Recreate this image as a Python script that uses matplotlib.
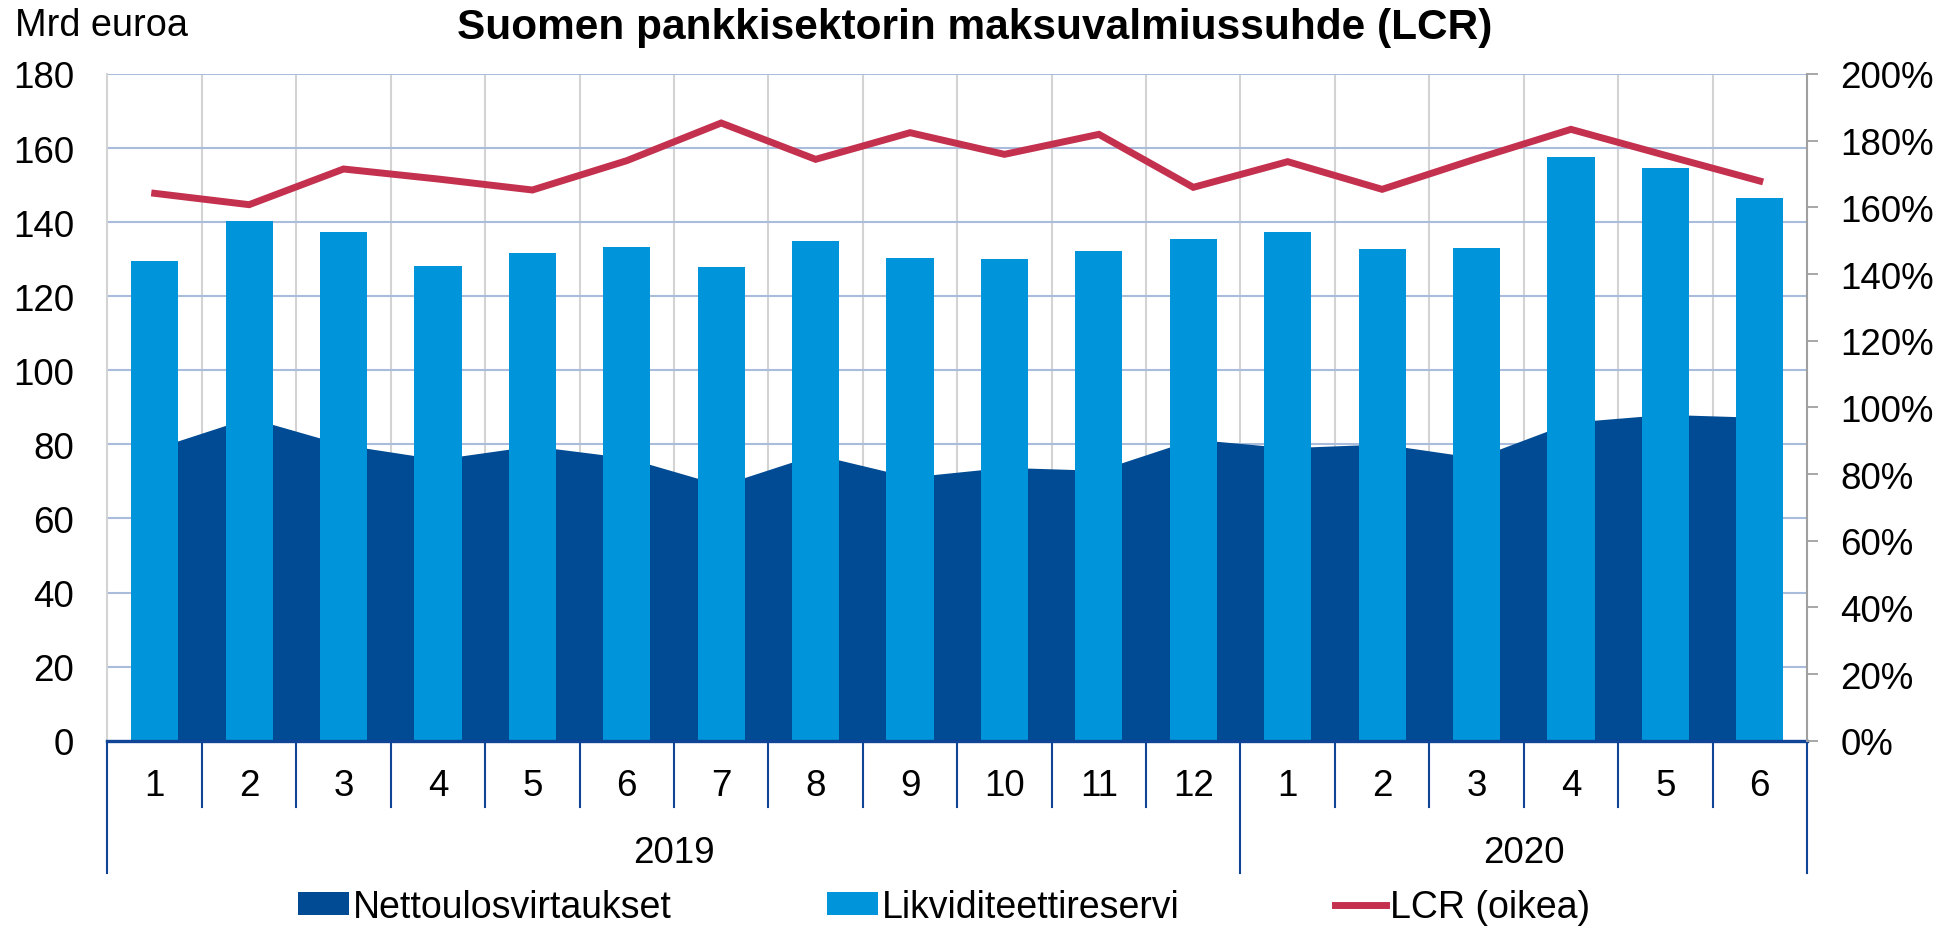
import numpy as np
import matplotlib
matplotlib.use("Agg")
import matplotlib.pyplot as plt
from matplotlib.ticker import FuncFormatter

plt.rcParams['font.family'] = ['Liberation Sans', 'DejaVu Sans']

# Data
months = ['1', '2', '3', '4', '5', '6', '7', '8', '9', '10', '11', '12',
          '1', '2', '3', '4', '5', '6']
years = ['2019', '2020']
months_per_year = [12, 6]

netto = [78.9, 87.2, 79.9, 76.0, 79.6, 76.4, 69.0, 77.3, 71.2, 73.8, 73.0, 81.4,
         79.1, 80.1, 76.4, 86.0, 88.1, 87.3]
likvidi = [129.6, 140.4, 137.3, 128.2, 131.7, 133.2, 127.8, 134.8, 130.2, 130.0, 132.2, 135.4,
           137.4, 132.8, 133.1, 157.5, 154.6, 146.4]
lcr = [164.2, 160.8, 171.5, 168.5, 165.2, 174.0, 185.3, 174.4, 182.4, 175.9, 181.9, 166.0,
       173.7, 165.4, 174.6, 183.4, 175.6, 167.9]

c_area = '#004B93'
c_bar = '#0095DA'
c_line = '#C4314F'
c_axis = '#0F4496'
fs = 26.5

fig = plt.figure(figsize=(19.49, 9.29), dpi=100)
W, H = 1949, 929
ax = fig.add_axes([107.5 / W, 1 - 741.7 / H, (1807 - 107.5) / W, (741.7 - 75) / H])

n = len(months)
x = np.arange(n) + 0.5

ax.fill_between(x, netto, color=c_area, lw=0, zorder=2, label='Nettoulosvirtaukset')
ax.bar(x, likvidi, width=0.5, color=c_bar, zorder=3, label='Likviditeettireservi')

ax.set_xlim(0, n)
ax.set_ylim(0, 180)
ax.set_yticks(np.arange(0, 181, 20))
ax.set_xticks([])
ax.set_xticks(np.arange(1, n), minor=True)
ax.tick_params(axis='x', which='both', length=0, labelbottom=False)
ax.tick_params(axis='y', length=0, pad=24, labelsize=fs)
ax.grid(axis='y', which='major', color='#A9BCDB', lw=1.5, zorder=0)
ax.grid(axis='x', which='minor', color='#D3D3D3', lw=1.5, zorder=0)
ax.set_axisbelow(True)

for s in ['top', 'right']:
    ax.spines[s].set_visible(False)
ax.spines['left'].set_color('#D3D3D3')
ax.spines['left'].set_linewidth(1.5)
ax.spines['bottom'].set_color(c_axis)
ax.spines['bottom'].set_linewidth(2.4)
ax.spines['bottom'].set_zorder(5)

ax2 = ax.twinx()
ax2.plot(x, lcr, color=c_line, lw=5, solid_joinstyle='miter', label='LCR (oikea)', zorder=4)
ax2.set_ylim(0, 200)
ax2.set_yticks(np.arange(0, 201, 20))
ax2.yaxis.set_major_formatter(FuncFormatter(lambda v, p: f'{v:.0f}%'))
ax2.tick_params(axis='y', length=8, width=1.3, color='#A0A0A0', pad=16, labelsize=fs)
for s in ['top', 'left', 'bottom']:
    ax2.spines[s].set_visible(False)
ax2.spines['right'].set_color('#A0A0A0')
ax2.spines['right'].set_linewidth(1.5)

# category axis: months, separators, years
tr = ax.get_xaxis_transform()
for xi, m in zip(x, months):
    ax.text(xi, -0.0675, m, transform=tr, ha='center', va='center', fontsize=fs)

year_edges = np.concatenate([[0], np.cumsum(months_per_year)])
for b in range(1, n):
    if b in year_edges:
        continue
    ax.plot([b, b], [0, -0.0996], transform=tr, color=c_axis, lw=1.5, clip_on=False)
for b in year_edges:
    ax.plot([b, b], [0, -0.198], transform=tr, color=c_axis, lw=1.5, clip_on=False)
for i, yname in enumerate(years):
    ax.text((year_edges[i] + year_edges[i + 1]) / 2, -0.167, yname, transform=tr,
            ha='center', va='center', fontsize=fs)

fig.text(15 / W, 1 - 36 / H, 'Mrd euroa', fontsize=27.3, va='baseline', ha='left')
fig.text(0.5, 1 - 39.5 / H, 'Suomen pankkisektorin maksuvalmiussuhde (LCR)',
         fontsize=30.5, fontweight='bold', va='baseline', ha='center')

h1, l1 = ax.get_legend_handles_labels()
h2, l2 = ax2.get_legend_handles_labels()
fig.legend(h1 + h2, l1 + l2, loc='center left', bbox_to_anchor=(298 / W, 1 - 908 / H), ncol=3,
           frameon=False, fontsize=27, handlelength=1.36, handleheight=0.55,
           handletextpad=0.1, columnspacing=4.15, borderaxespad=0, borderpad=0)

fig.savefig('out.png', dpi=100)
